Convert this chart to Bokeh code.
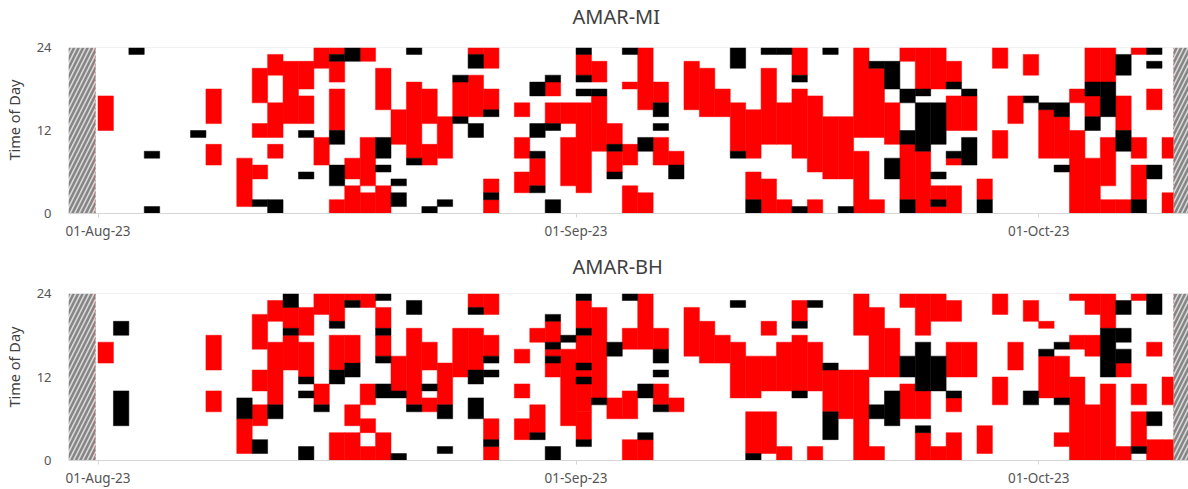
from datetime import datetime, timedelta

from bokeh.embed import file_html
from bokeh.layouts import column
from bokeh.models import (ColumnDataSource, DatetimeTickFormatter, FixedTicker, Range1d,
                          Span, Title)
from bokeh.plotting import figure
from bokeh.resources import INLINE

# Recorder timeline: first full day of data, deployment and recovery times
FIRST_DAY = datetime(2023, 8, 1)
DEPLOYED = datetime(2023, 7, 31, 20)
RECOVERED = datetime(2023, 10, 9, 18)
VIEW_START = datetime(2023, 7, 30, 2, 5)
VIEW_END = VIEW_START + timedelta(days=72.63)

date_ticks = [datetime(2023, 8, 1), datetime(2023, 9, 1), datetime(2023, 10, 1)]
hour_ticks = [0, 12, 24]

# Detection runs per station: (day index from 1 Aug, first hour, last hour)
mi_red = [
    (0, 12, 16), (7, 7, 9), (7, 13, 17), (9, 1, 7),
    (10, 5, 6), (10, 11, 12), (10, 16, 20),
    (11, 8, 9), (11, 11, 15), (11, 20, 22), (12, 13, 21),
    (13, 13, 16), (13, 18, 21), (14, 7, 10), (14, 21, 23),
    (15, 0, 1), (15, 12, 17), (15, 19, 21), (15, 23, 23),
    (16, 0, 3), (16, 5, 7), (17, 0, 2), (17, 4, 10), (17, 22, 23),
    (18, 0, 3), (18, 15, 20), (19, 10, 14), (20, 8, 18),
    (21, 7, 9), (21, 13, 17), (22, 8, 13), (23, 14, 18),
    (24, 14, 19), (24, 23, 23),
    (25, 0, 1), (25, 3, 4), (25, 15, 17), (25, 21, 23),
    (27, 3, 5), (27, 8, 10), (27, 14, 15), (28, 4, 7),
    (29, 13, 15), (29, 17, 18),
    (30, 4, 10), (30, 13, 15), (31, 3, 15), (31, 20, 22),
    (32, 9, 16), (32, 19, 21), (33, 6, 8), (33, 10, 12),
    (34, 0, 3), (34, 7, 9), (34, 18, 18),
    (35, 0, 2), (35, 15, 23), (36, 7, 10), (36, 16, 18),
    (37, 7, 8), (38, 15, 21), (39, 14, 20), (40, 14, 17), (41, 9, 15),
    (42, 2, 5), (42, 8, 14), (43, 0, 4), (43, 10, 20),
    (44, 0, 1), (44, 10, 15), (45, 8, 17), (45, 20, 23),
    (46, 0, 1), (46, 6, 16), (47, 5, 13), (48, 5, 13),
    (49, 0, 8), (49, 11, 23), (50, 0, 1), (50, 11, 20), (51, 10, 15),
    (52, 2, 9), (52, 22, 23), (53, 0, 8), (53, 18, 23),
    (54, 0, 0), (54, 2, 3), (54, 18, 23),
    (55, 0, 3), (55, 7, 7), (55, 12, 16), (55, 19, 21), (56, 12, 16),
    (57, 2, 4), (58, 8, 11), (58, 21, 23), (59, 13, 16), (60, 20, 22),
    (61, 8, 14), (62, 8, 13), (63, 0, 11), (63, 16, 17),
    (64, 0, 7), (64, 14, 16), (64, 19, 23),
    (65, 0, 1), (65, 4, 10), (65, 19, 23), (66, 0, 1), (66, 12, 16),
    (67, 2, 6), (67, 8, 10), (67, 23, 23), (68, 15, 17),
    (69, 0, 2), (69, 8, 10),
]
mi_black = [
    (2, 23, 23), (3, 0, 0), (3, 8, 8), (6, 11, 11),
    (10, 1, 1), (11, 0, 1), (13, 5, 5), (13, 11, 11),
    (15, 4, 6), (15, 10, 11), (15, 22, 22), (16, 22, 23),
    (18, 6, 6), (18, 8, 10), (19, 1, 2), (19, 4, 4),
    (20, 7, 7), (20, 23, 23), (21, 0, 0), (22, 1, 1),
    (23, 13, 13), (23, 19, 19), (24, 11, 12), (24, 21, 22),
    (25, 2, 2), (25, 14, 14),
    (28, 3, 3), (28, 8, 8), (28, 11, 12), (28, 17, 18),
    (29, 0, 1), (29, 12, 12), (29, 19, 19),
    (31, 17, 17), (31, 19, 19), (31, 23, 23), (32, 17, 17),
    (33, 5, 5), (33, 9, 9), (34, 23, 23), (35, 9, 10),
    (36, 12, 12), (36, 14, 15), (37, 5, 6),
    (41, 8, 8), (41, 21, 23), (42, 0, 1), (43, 23, 23),
    (44, 23, 23), (45, 0, 0), (45, 19, 19), (47, 23, 23), (48, 0, 0),
    (50, 21, 21), (51, 5, 7), (51, 18, 21),
    (52, 0, 1), (52, 10, 11), (52, 16, 17),
    (53, 9, 15), (53, 17, 17), (54, 1, 1), (54, 5, 5), (54, 10, 15),
    (55, 8, 8), (55, 18, 18), (56, 7, 10), (56, 17, 17),
    (57, 0, 1), (60, 16, 16), (61, 15, 15), (62, 6, 6), (62, 14, 15),
    (64, 12, 13), (64, 17, 18), (65, 14, 18),
    (66, 9, 11), (66, 20, 22), (67, 0, 1),
    (68, 5, 6), (68, 21, 21), (68, 23, 23),
]

bh_red = [
    (0, 14, 16), (7, 7, 9), (7, 13, 17), (9, 1, 5),
    (10, 5, 7), (10, 10, 12), (10, 16, 20), (11, 8, 16), (11, 20, 22),
    (12, 13, 17), (12, 19, 21), (13, 12, 16), (13, 18, 21),
    (14, 8, 10), (14, 21, 23), (15, 0, 3), (15, 13, 17), (15, 20, 23),
    (16, 0, 3), (16, 5, 7), (16, 14, 17), (16, 23, 23),
    (17, 0, 1), (17, 4, 5), (17, 8, 10), (17, 22, 23),
    (18, 0, 3), (18, 15, 17), (18, 19, 21), (19, 10, 14), (20, 8, 18),
    (21, 7, 8), (21, 13, 16), (22, 8, 13), (23, 12, 18),
    (24, 13, 18), (24, 22, 23),
    (25, 0, 1), (25, 3, 5), (25, 15, 17), (25, 21, 23),
    (27, 3, 5), (27, 9, 10), (27, 14, 15), (28, 4, 7), (28, 17, 18),
    (29, 12, 13), (29, 15, 15), (29, 17, 19), (30, 5, 15),
    (31, 3, 6), (31, 7, 10), (31, 12, 12), (31, 14, 17), (31, 19, 22),
    (32, 9, 21), (33, 6, 8), (34, 0, 2), (34, 6, 9), (34, 16, 18),
    (35, 0, 2), (35, 16, 23), (36, 8, 10), (36, 16, 18), (37, 7, 8),
    (38, 15, 21), (39, 14, 19), (40, 14, 17), (41, 9, 16),
    (42, 1, 6), (42, 9, 14), (43, 1, 6), (43, 10, 14), (43, 18, 19),
    (44, 0, 1), (44, 10, 16), (45, 10, 17), (45, 20, 22),
    (46, 0, 1), (46, 10, 16), (47, 7, 12), (48, 6, 12),
    (49, 0, 12), (49, 18, 23), (50, 0, 1), (50, 12, 21), (51, 12, 18),
    (52, 6, 10), (52, 22, 23), (53, 0, 3), (53, 6, 9), (53, 18, 23),
    (54, 0, 1), (54, 20, 23),
    (55, 0, 3), (55, 7, 8), (55, 12, 16), (55, 20, 22), (56, 12, 16),
    (57, 1, 4), (58, 8, 11), (58, 21, 23), (59, 13, 16), (60, 20, 22),
    (61, 9, 14), (61, 19, 19), (62, 2, 3), (62, 9, 14),
    (63, 0, 11), (63, 16, 17), (63, 23, 23),
    (64, 0, 7), (64, 15, 17), (64, 21, 23), (65, 0, 10), (65, 19, 23),
    (66, 0, 1), (66, 12, 13), (67, 2, 6), (67, 8, 10), (67, 23, 23),
    (68, 0, 2), (68, 15, 16), (69, 0, 2), (69, 8, 11),
]
bh_black = [
    (1, 5, 9), (1, 18, 19), (9, 6, 8), (10, 1, 2), (11, 6, 7),
    (12, 18, 18), (12, 22, 23), (13, 0, 1), (13, 9, 9), (13, 11, 11),
    (14, 7, 7), (15, 11, 12), (15, 19, 19), (16, 12, 13), (16, 22, 22),
    (18, 9, 10), (18, 14, 14), (18, 18, 18), (18, 23, 23),
    (19, 0, 0), (19, 9, 9), (20, 7, 7), (20, 21, 22),
    (21, 10, 10), (22, 1, 1), (22, 6, 7),
    (24, 6, 8), (24, 11, 12), (24, 21, 21),
    (25, 2, 2), (25, 12, 12), (25, 14, 14), (28, 3, 3),
    (29, 0, 1), (29, 14, 14), (29, 16, 16), (29, 20, 20), (30, 17, 17),
    (31, 2, 2), (31, 11, 11), (31, 13, 13), (31, 18, 18), (31, 23, 23),
    (32, 8, 8), (33, 15, 16), (34, 23, 23), (35, 3, 3), (35, 9, 10),
    (36, 7, 7), (36, 12, 12), (36, 14, 15), (41, 22, 22), (42, 0, 0),
    (45, 9, 9), (45, 19, 19), (46, 22, 22), (47, 3, 6), (47, 13, 13),
    (50, 6, 7), (51, 5, 9), (52, 12, 14), (53, 4, 4), (53, 10, 16),
    (54, 10, 14), (55, 9, 9), (60, 8, 9), (61, 15, 15), (62, 8, 8),
    (62, 16, 16), (65, 12, 18), (66, 14, 15), (66, 17, 18), (66, 21, 22),
    (67, 1, 1), (68, 5, 6), (68, 21, 23),
]

FONT = "Noto Sans"
TEXT = "#404040"
TICK_TEXT = "#555555"
AXIS_GREY = "#d6d6d6"


def ms(t):
    return (t - datetime(1970, 1, 1)).total_seconds() * 1000.0


def run_source(runs):
    return ColumnDataSource(dict(
        left=[ms(FIRST_DAY + timedelta(days=d)) for d, a, b in runs],
        right=[ms(FIRST_DAY + timedelta(days=d + 1)) for d, a, b in runs],
        bottom=[a for d, a, b in runs],
        top=[b + 1 for d, a, b in runs],
    ))


def spacer(gap):
    return Title(text=" ", text_font_size="2px", standoff=gap)


def station_panel(name, red_runs, black_runs, border_top, frame_h, border_bottom, title_gap):
    p = figure(
        width=1188, height=border_top + frame_h + border_bottom,
        x_axis_type="datetime",
        x_range=Range1d(ms(VIEW_START), ms(VIEW_END)),
        y_range=Range1d(0, 24),
        output_backend="svg", toolbar_location=None,
        min_border_left=68, min_border_right=0,
        min_border_top=border_top, min_border_bottom=border_bottom,
    )
    p.outline_line_color = None
    p.xgrid.visible = False
    p.ygrid.visible = False

    # station name above the frame
    p.add_layout(spacer(title_gap), "above")
    p.add_layout(Title(text=name, align="left", offset=504, standoff=0,
                       text_font=FONT, text_font_size="20px",
                       text_font_style="normal", text_color=TEXT), "above")

    # hourly detection cells
    p.quad(left="left", right="right", bottom="bottom", top="top",
           source=run_source(red_runs), fill_color="#ff0000",
           line_color="#ff0000", line_width=0.5)
    p.quad(left="left", right="right", bottom="bottom", top="top",
           source=run_source(black_runs), fill_color="#000000",
           line_color="#000000", line_width=0.5)

    # periods outside the recording window
    p.quad(left=[ms(VIEW_START), ms(RECOVERED)], right=[ms(DEPLOYED), ms(VIEW_END) + 1e8],
           bottom=[0, 0], top=[24, 24], fill_color="#d8d8d8",
           hatch_pattern="/", hatch_color="#858585", hatch_weight=2.5,
           hatch_scale=9, line_color=None)
    for t in (DEPLOYED, RECOVERED):
        p.add_layout(Span(location=ms(t), dimension="height", line_color="#ff6060",
                          line_dash="2 2", line_width=1, line_alpha=0.7))
    p.add_layout(Span(location=24, dimension="width", line_color="#e4e4e4", line_width=1))

    xa = p.xaxis[0]
    xa.ticker = FixedTicker(ticks=[ms(t) for t in date_ticks])
    fmt = "%d-%b-%y"
    xa.formatter = DatetimeTickFormatter(days=fmt, months=fmt, years=fmt,
                                         hours=fmt, minutes=fmt, hourmin=fmt)
    xa.axis_line_color = AXIS_GREY
    xa.major_tick_line_color = AXIS_GREY
    xa.major_tick_in = 0
    xa.major_tick_out = 4
    xa.minor_tick_line_color = None
    xa.major_label_standoff = 4
    xa.major_label_text_font = FONT
    xa.major_label_text_font_size = "13.5px"
    xa.major_label_text_color = TICK_TEXT

    ya = p.yaxis[0]
    ya.ticker = FixedTicker(ticks=hour_ticks)
    ya.axis_line_color = None
    ya.major_tick_line_color = None
    ya.minor_tick_line_color = None
    ya.major_label_standoff = 11
    ya.major_label_text_font = FONT
    ya.major_label_text_font_size = "13px"
    ya.major_label_text_color = TICK_TEXT

    # vertical axis title, set a little above the frame's centre
    p.add_layout(spacer(6), "left")
    p.add_layout(Title(text="Time of Day", align="left", offset=53, standoff=0,
                       text_font=FONT, text_font_size="14.5px",
                       text_font_style="normal", text_color=TEXT), "left")
    return p


top = station_panel("AMAR-MI", mi_red, mi_black, 45, 168, 32, 14)
bottom = station_panel("AMAR-BH", bh_red, bh_black, 48, 167, 29, 10)
layout = column(top, bottom, spacing=0)

open("out.html", "w").write(file_html(layout, INLINE))
